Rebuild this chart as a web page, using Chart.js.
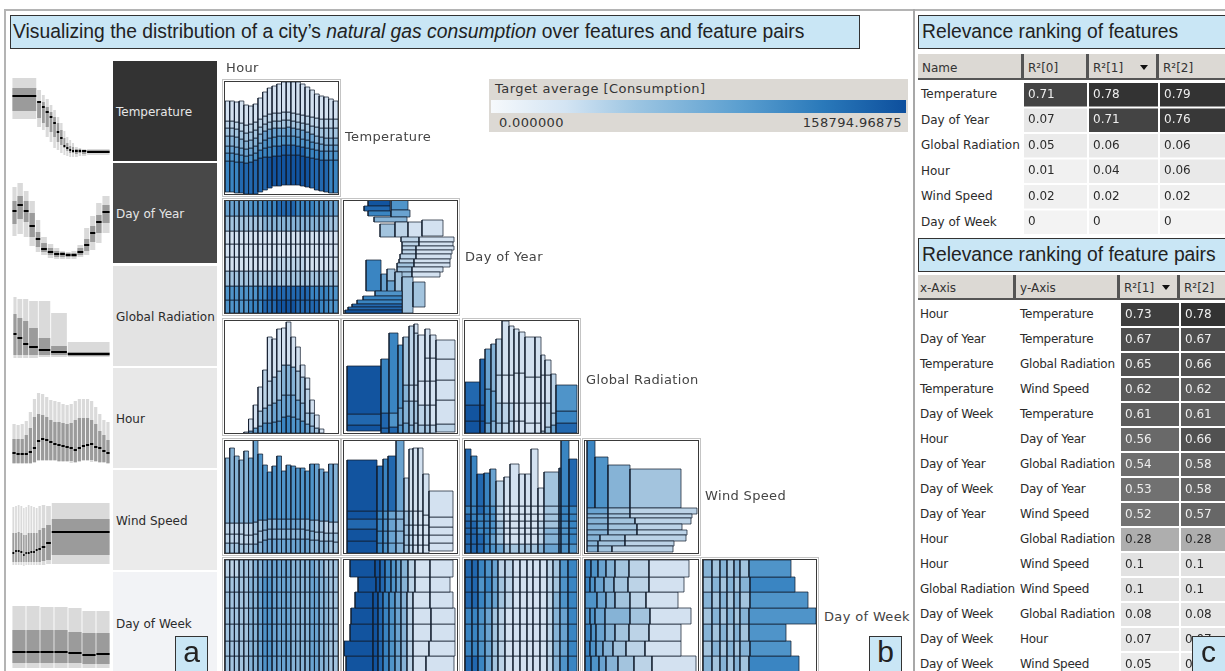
<!DOCTYPE html>
<html><head><meta charset="utf-8">
<script src="https://cdn.jsdelivr.net/npm/chart.js@4"></script>
<style>
html,body{margin:0;padding:0;background:#fff}
#page{position:relative;width:1225px;height:671px;overflow:hidden;background:#fff;font-family:"DejaVu Sans",sans-serif;font-size:12px;color:#2b2b2b}
#page canvas{position:absolute;display:block}
.abs{position:absolute;white-space:nowrap}
.box{position:absolute;box-sizing:border-box;background:#c9e6f5;border:1.5px solid #333;font-family:"Liberation Sans",Arial,sans-serif;color:#222;white-space:nowrap;z-index:5}
.hd{position:absolute;box-sizing:border-box;background:#dcd9d4;border-right:3px solid #555;border-bottom:2px solid #555;padding-left:4px;white-space:nowrap;color:#333}
.cell{position:absolute;box-sizing:border-box;padding-left:3px;white-space:nowrap}
.frame{position:absolute;box-sizing:border-box;border:1px solid #c4c4c4;pointer-events:none}
.inner{position:absolute;box-sizing:border-box;border:1px solid #3a3a3a;pointer-events:none;z-index:3}
.tri{position:absolute;width:0;height:0;border-left:4px solid transparent;border-right:4px solid transparent;border-top:5px solid #111}
.plab{color:#444;font-size:13px;letter-spacing:.35px}
.pt{letter-spacing:-.25px}
</style></head><body><div id="page"></div>
<script>
/* ---------- categories and labels ---------- */
const featureNames = ["Temperature","Day of Year","Global Radiation","Hour","Wind Speed","Day of Week"];
const axisNames = ["Temperature","Day of Year","Global Radiation","Wind Speed","Day of Week"];
const legendTitle = "Target average [Consumption]";
const legendMin = "0.000000";
const legendMax = "158794.96875";

/* ---------- relevance tables ---------- */
const rankNames = ["Temperature","Day of Year","Global Radiation","Hour","Wind Speed","Day of Week"];
const rankR0 = [0.71,0.07,0.05,0.01,0.02,0];
const rankR1 = [0.78,0.71,0.06,0.04,0.02,0];
const rankR2 = [0.79,0.76,0.06,0.06,0.02,0];
const pairX = ["Hour","Day of Year","Temperature","Temperature","Day of Week","Hour","Day of Year","Day of Week","Day of Year","Hour","Hour","Global Radiation","Day of Week","Day of Week","Day of Week"];
const pairY = ["Temperature","Temperature","Global Radiation","Wind Speed","Temperature","Day of Year","Global Radiation","Day of Year","Wind Speed","Global Radiation","Wind Speed","Wind Speed","Global Radiation","Hour","Wind Speed"];
const pairR1 = [0.73,0.67,0.65,0.62,0.61,0.56,0.54,0.53,0.52,0.28,0.1,0.1,0.08,0.07,0.05];
const pairR2 = [0.78,0.67,0.66,0.62,0.61,0.66,0.58,0.58,0.57,0.28,0.1,0.1,0.08,0.07,0.05];

/* ---------- single-feature distributions: bin edges, high, q3, median, q1, low ---------- */
const tempEdges=[0,24.7,29.5,33.2,37.2,40.8,44.3,47.7,51,53.8,56.8,59.6,62.5,66.2,69.6,74.7,98];
const tempHigh=[84,72,67,63,57,52,45,39,31,25,22,19,15,14,13,13];
const tempQ3=[74,61,60,55,50,45,39,32,24,19,16,15,13,13,12,12];
const tempMed=[66,60,55,50,45,39,30,24,16,14,12,11,11,11,11,10];
const tempQ1=[51,44,39,35,30,25,20,17,14,11,9,9,8,9,8,9];
const tempLow=[43,35,32,25,20,14,12,9,7,6,5,5,5,6,6,7];

const doyEdges=[0,5,11.3,17,23.3,28.7,35.3,41.7,47.7,53.3,59,65,71.7,77.7,83.7,90,98];
const doyHigh=[77,81,73,63,44,27,20,16,13,12,13,19,36,48,61,68];
const doyQ3=[63,68,63,51,32,21,16,13,12,11,11,16,25,38,49,59];
const doyMed=[53,59,53,38,25,15,12,10,10,9,9,12,19,31,42,52];
const doyQ1=[40,45,42,27,17,12,9,7,7,7,7,9,13,22,31,41];
const doyLow=[28,30,27,18,12,9,6,5,5,5,5,7,9,14,21,31];

const radEdges=[0,1,5,10.7,16.7,26.3,38.7,55.3,98];
const radHigh=[70,70,68,68,66,66,54,25];
const radQ3=[50,53,49,46,39,29,21,15];
const radMed=[30,33,29,23,20,17,15,13];
const radQ1=[12,12,12,12,12,12,12,11];
const radLow=[5,9,9,9,9,10,10,10];

const hourEdges=[0,1,2,3,4,5,6,7,8,9,10,11,12,13,14,15,16,17,18,19,20,21,22,23,24];
const hourHigh=[45,44,45,48,57,70,76,75,72,69,68,67,65,64,65,68,70,70,70,68,62,55,49,47];
const hourQ3=[30,30,30,34,41,52,55,54,52,49,47,47,46,45,46,49,51,51,51,49,45,38,34,29];
const hourMed=[16,15,15,15,17,21,28,30,29,27,25,24,23,22,21,19,21,23,24,25,22,21,18,16];
const hourQ1=[6,6,6,6,6,7,9,9,9,9,9,8,8,8,8,7,8,9,9,9,8,7,7,6];
const hourLow=[5,5,5,5,5,6,8,8,8,8,8,7,7,7,6,6,7,8,8,7,7,6,6,5];

const windEdges=[0,2.7,5.3,8,10.7,13,15.3,18,20.7,23.3,26,29.3,33.7,39.3,98];
const windHigh=[65,66,67,66,64,65,67,66,65,64,66,67,66,69];
const windQ3=[39,39,40,39,37,37,39,39,39,39,42,44,47,53];
const windMed=[19,21,21,20,17,19,19,20,20,22,23,25,29,40];
const windQ1=[10,10,10,10,10,10,10,10,10,10,10,11,12,17];
const windLow=[7,7,7,7,6,7,7,7,7,7,7,7,8,8];

const weekEdges=[0,1,2,3,4,5,6,7];
const weekHigh=[68,68,67,67,66,63,63];
const weekQ3=[44,44,44,44,42,41,41];
const weekMed=[22,22,22,22,21,19,20];
const weekQ1=[11,11,11,11,11,10,10];
const weekLow=[6,6,6,6,6,6,6];

/* ---------- pair mosaics: bin boundaries and a tone digit per cell (bottom to top) ---------- */
const hourTempLevels=[
[2,2,1,1,0,0,0,2,4,6,8,8,9,9,9,9,8,7,6,4,3,2,1,1],
[33,33,32,32,31,32,34,36,37,37,38,38,39,39,39,39,38,37,36,35,34,34,34,34],
[41,41,40,39,38,39,41,44,46,47,48,48,49,49,49,48,47,46,45,44,43,43,43,43],
[48,48,47,46,45,46,48,51,54,56,57,58,58,58,58,57,55,54,52,51,50,49,49,49],
[58,58,57,55,53,54,56,60,63,65,66,66,66,67,66,65,64,62,60,58,57,56,56,56],
[66,66,65,63,61,62,64,67,70,72,73,73,74,74,73,72,71,70,68,67,66,66,66,66],
[73,73,72,71,69,70,72,75,78,80,81,81,82,82,81,80,79,78,77,76,75,75,75,75],
[93,93,92,93,89,88,90,96,102,106,108,110,112,112,112,112,110,107,104,100,98,97,95,93]];
const hourTempTones=["7654321","7654321","7654321","8654321","8654321","8654321","8654321","8754321","8765321","9765321","9765321","9865321","9865321","9865321","9865321","9865321","9865321","9765321","8765321","8754321","8754321","8654321","7654321","7654321"];

const hourDoyLevels=[0,13,27,42,56,69,82,97,113];
const hourDoyTones=["66311135","66311135","66311135","66311135","66311135","76311136","76311136","77311136","87311147","88311147","88321147","98321148","98321148","98321148","98321148","88321147","88321147","88311147","87311147","87311146","77311146","77311146","66311135","66311135"];

const doyTempRects=[
[24,46,107,113,9],[47,64,103,113,6],[20,46,102,107,8],[24,47,97,102,7],[47,66,96,103,5],[30,63,91,96,4],[36,51,76,89,3],[51,64,76,91,2],[64,78,74,91,1],[78,99,77,93,1],
[57,75,71,76,2],[75,110,71,76,1],[58,75,67,71,2],[75,109,67,71,1],[58,72,63,67,2],[72,110,63,67,1],[58,72,59,63,2],[72,108,59,63,1],[56,72,54,59,2],[72,107,54,59,1],[55,70,50,54,2],[70,106,50,54,1],[53,70,46,50,3],[70,106,46,50,1],[53,68,41,46,3],[68,99,41,46,1],[51,68,36,41,3],[68,96,36,41,1],
[22,37,22,53,7],[37,43,21,39,5],[43,51,32,44,3],[43,51,21,32,5],[51,58,21,41,3],[58,69,0,36,3],[69,81,6,31,3],
[31,58,17,22,6],[19,58,13,17,7],[13,58,9,13,7],[8,58,6,9,8],[4,58,3,6,8],[1,58,0,3,9]];

const hourRadLevels=[null,null,null,null,[0,1],[0,2,14],[0,5,28],[0,7,22,46],[0,10,25,63],[0,10,28,52,96],[0,11,30,56,94],[0,12,33,62,104],[0,16,38,68,105],[0,17,38,68,111],[0,16,38,66,96],[0,14,33,62,86],[0,12,30,56,68],[0,9,20,44,55],[0,7,20,33],[0,5,18],[0,4],null,null,null];
const hourRadTones=["","","","","1","51","51","531","642","6421","6531","6531","7541","7541","6541","6531","6431","5321","431","31","1","","",""];

const doyRadEdges=[3,37,45,54,59,65,70,74,81,86,92,111];
const doyRadLevels=[[2,8,19,67],[0,5,20,74],[0,6,20,100],[0,8,25,88],[0,10,32,48,96],[0,8,32,48,107],[0,10,32,48,100,109],[0,8,28,52,98],[0,8,28,52,75,104],[0,8,28,52,75,98],[1,9,33,53,74,93]];
const doyRadTones=["989","887","867","656","5443","4322","33221","3211","32111","21111","21111"];

const radRadEdges=[0,15,20,26,31,37,44,49,54,60,70,76,80,86,91,112];
const radRadLevels=[[0,12,28,51],[0,12,28,74],[0,10,44,84],[0,12,42,89],[0,10,30,58,94],[0,10,30,58,112],[0,12,30,58,107],[0,12,30,60,104],[0,12,30,60,101],[0,10,30,56,96],[0,10,30,56,96],[0,2,30,58,78],[0,6,30,58,73],[0,8,20,59],[0,10,22,48]];
const radRadTones=["998","998","565","454","3322","2211","2211","1111","1111","1111","1111","2111","3211","532","876"];

const hourWindLevels=[
[0,0,0,0,0,0,0,0,0,0,0,0,0,0,0,0,0,0,0,0,0,0,0,0],
[10,10,10,9,9,9,9,11,13,14,14,14,14,14,14,14,14,14,13,13,12,12,12,11],
[19,19,19,19,18,18,19,22,23,24,24,24,24,24,24,24,24,23,22,21,21,20,20,20],
[30,30,30,30,30,30,31,33,33,34,34,34,34,34,34,34,34,34,33,33,32,32,31,31],
[95,105,97,93,102,95,113,99,88,81,87,97,82,88,87,85,85,82,89,89,84,81,89,89]];
const hourWindTones=["3224","3224","3224","3224","3224","3225","4335","4336","5446","5446","5446","5456","5456","5456","5456","5456","5446","5446","4446","4335","4335","4325","3325","3324"];

const doyWindEdges=[3,33,39,44,52,60,65,69,74,79,85,109];
const doyWindLevels=[[0,12,24,34,42,93],[0,10,22,34,42,87],[0,10,22,34,42,94],[0,10,22,34,42,97],[0,10,22,34,42,113],[0,8,18,28,42,75],[0,8,18,28,42,104],[0,8,18,28,42,105],[0,8,18,28,42,105],[0,8,18,28,38,79],[2,10,18,26,36,62]];
const doyWindTones=["99899","77778","66667","55558","44445","33332","22221","11111","11111","11111","11111"];

const radWindEdges=[0,6,12,19,25,31,39,45,54,60,66,73,79,94,96,104,112];
const radWindTops=[104,97,79,80,84,72,76,89,79,79,104,65,81,85,113,94];
const radWindLevels=[0,9,19,25,32,39,47];
const radWindTones=["8888878","8888777","8877788","7777777","6566665","5333222","3111111","3111111","3111111","3111111","3111111","4222111","5443333","6566666","6666777","6777778"];

const windWindRects=[
[2,10,45,113,7],[10,23,45,96,6],[23,45,45,88,4],[45,96,45,84,3],
[2,23,39,45,5],[23,45,39,45,3],[45,112,39,45,2],[2,23,35,39,4],[23,45,35,39,3],[45,107,35,39,2],
[2,23,29,35,4],[23,50,29,35,3],[50,106,29,35,2],[2,23,23,29,4],[23,52,23,29,3],[52,97,23,29,2],
[2,23,18,23,4],[23,52,18,23,3],[52,102,18,23,2],[2,15,12,18,4],[15,40,12,18,3],[40,101,12,18,2],
[2,13,7,12,4],[13,40,7,12,3],[40,89,7,12,2],[2,13,1,7,4],[13,27,1,7,3],[27,88,1,7,2]];

const weekLevels=[0,16,31,48,64,80,95,112];
const hourWeekTones=["3333332","3333332","3333332","3333333","3333333","4444443","4444444","5555554","6666665","6666665","5555555","5555555","5555555","5555555","4444444","4444444","4444444","4444444","5555555","5555554","4444444","4444443","3333333","3333333"];

const doyWeekEdges=[
[2,29,34,39,45,51,57,63,69,82,110],
[0,29,34,39,45,51,57,63,69,85,111],
[6,29,34,39,45,51,57,63,69,87,111],
[7,29,34,39,45,51,57,63,69,87,111],
[11,29,34,39,45,51,57,63,69,86,109],
[14,32,36,41,47,52,57,64,71,86,106],
[6,31,36,41,47,52,57,64,71,86,109]];
const doyWeekTones=["9987654211","9987654211","9987654211","9987654211","9987654211","9987654211","9987654211"];

const radWeekEdges=[0,7,13,20,27,33,40,48,55,62,68,75,82,88,95,103,112];
const radWeekTones=["8777888","8777888","7666767","5555676","3333555","2222332","1111222","1111111","1111111","1111111","1111111","1111111","2222222","4444433","6555666","7777777"];

const windWeekEdges=[
[0,6,14,21,33,49,67,111],
[0,5,11,18,28,41,60,96],
[0,6,11,20,30,44,64,96],
[0,5,10,20,45,65,106],
[0,12,21,30,45,61,93],
[0,5,10,19,29,43,64,99],
[0,6,13,21,30,44,64,104]];
const windWeekTones=["7654321","7654321","7654321","665431","654321","7654321","7654321"];

const weekWeekEdges=[
[0,9,17,24,31,37,46,96],
[0,9,17,24,31,37,47,88],
[0,9,17,24,31,37,46,83],
[0,9,17,24,31,37,46,113],
[0,9,17,24,31,37,47,105],
[0,9,17,24,31,37,47,92],
[0,9,17,24,31,37,46,88]];
const weekWeekTones=["4343437","3434346","4343436","3434346","4343436","3434347","4343436"];

/* ---------- styles and layout ---------- */
const RAMP=["#e6eef7","#d3e1f0","#bcd3e7","#a3c4de","#86b3d6","#6aa3d0","#4f94c9","#3a85c2","#2268af","#12549f"];
const page=document.getElementById("page");
function div(cls,left,top,w,h,html,css){
  const d=document.createElement("div");d.className=cls;
  if(left!=null)d.style.left=left+"px";d.style.top=top+"px";
  if(w!=null)d.style.width=w+"px"; if(h!=null)d.style.height=h+"px";
  if(html!=null)d.innerHTML=html; if(css)d.style.cssText+=css;
  page.appendChild(d);return d;
}
function newChart(left,top,w,h,xMax,yMax,datasets,extra,blur){
  const c=document.createElement("canvas");
  c.width=w;c.height=h;c.style.left=left+"px";c.style.top=top+"px";c.style.width=w+"px";c.style.height=h+"px";
  if(blur)c.style.filter="blur("+blur+"px)";
  page.appendChild(c);
  /* the library paints the first dataset last, so the list is reversed to keep painter's order */
  return new Chart(c,{type:"scatter",data:{datasets:datasets.slice().reverse()},plugins:extra||[],options:{
    responsive:false,animation:false,events:[],devicePixelRatio:1,
    layout:{padding:0},
    plugins:{legend:{display:false},tooltip:{enabled:false}},
    scales:{x:{type:"linear",display:false,min:0,max:xMax},y:{type:"linear",display:false,min:0,max:yMax}}
  }});
}
function rectSet(x0,x1,y0,y1,fill,stroke,bw){
  return {data:[{x:x0,y:y0},{x:x1,y:y0},{x:x1,y:y1},{x:x0,y:y1},{x:x0,y:y0}],showLine:true,fill:"shape",
    backgroundColor:fill,borderColor:stroke||fill,borderWidth:bw||0,pointRadius:0,tension:0,borderJoinStyle:"miter"};
}
/* mosaic builders */
function fromColumns(edges,levels,tones){
  const out=[];
  levels.forEach((lv,i)=>{ if(!lv)return;
    for(let k=0;k<lv.length-1;k++){ if(lv[k+1]>lv[k]) out.push([edges[i],edges[i+1],lv[k],lv[k+1],+tones[i][k]]); }
  });
  return out;
}
function transpose(rows){return rows[0].map((_,i)=>rows.map(r=>r[i]));}
function fromBands(levels,edgesPerRow,tonesPerRow){
  const out=[];
  edgesPerRow.forEach((e,r)=>{ for(let k=0;k<e.length-1;k++) out.push([e[k],e[k+1],levels[r],levels[r+1],+tonesPerRow[r][k]]); });
  return out;
}
const STROKE="rgba(18,28,44,.72)";
function mosaic(col,row,xMax,rects){
  const colX=[225,344,465,585,703], rowY=[82,201,321,441,560];
  const l=colX[col], t=rowY[row], w=113, h=112;
  newChart(l,t,w,h,xMax,112,rects.map(r=>rectSet(r[0],r[1],r[2],r[3],RAMP[r[4]],STROKE,1)),null,0.45);
  div("inner",l-1,t-1,w+2,h+2);
  div("frame",l-3,t-3,w+6,h+6);
}
function distribution(top,xMax,edges,high,q3,med,q1,low){
  const g=xMax/98*0.45, sets=[];
  high.forEach((v,i)=>sets.push(rectSet(edges[i]+g,edges[i+1]-g,low[i],v,"#dadada")));
  q3.forEach((v,i)=>sets.push(rectSet(edges[i]+g,edges[i+1]-g,q1[i],v,"#9b9b9b")));
  med.forEach((v,i)=>sets.push({data:[{x:edges[i]+g,y:v},{x:edges[i+1]-g,y:v}],showLine:true,fill:false,borderColor:"#000",borderWidth:2,pointRadius:0}));
  newChart(12,top,98,102,xMax,102,sets);
}
function grayFor(v){const g=v<=0.1?Math.round(243-170*v):Math.max(51,Math.round(243-246*v));return "rgb("+g+","+g+","+g+")";}
function heatColumn(left,top,w,rowH,values){
  const n=values.length;
  const sets=values.map((v,i)=>rectSet(0,1,n-i-1+0.04,n-i-0.04,grayFor(v)));
  const labels={id:"cellText",afterDatasetsDraw(ch){
    const ctx=ch.ctx,sx=ch.scales.x,sy=ch.scales.y;
    ctx.save();ctx.font='12px "DejaVu Sans"';ctx.textBaseline="middle";ctx.textAlign="left";
    values.forEach((v,i)=>{ctx.fillStyle=v>=0.5?"#eeeeee":"#2b2b2b";ctx.fillText(String(v),sx.getPixelForValue(0)+4,sy.getPixelForValue(n-i-0.5));});
    ctx.restore();
  }};
  newChart(left,top,w,Math.round(rowH*n),1,n,sets,[labels]);
}

/* ---------- frame ---------- */
div("abs",4,9,1221,2,null,"background:#b4b4b4");
div("abs",4,9,2,662,null,"background:#b4b4b4");
div("abs",913,9,2,662,null,"background:#a8a8a8");
div("box",10,15,850,34,'Visualizing the distribution of a city’s <i>natural gas consumption</i> over features and feature pairs',"font-size:19.3px;line-height:31px;padding-left:2px");
div("box",918,15,312,34,"Relevance ranking of features","font-size:19.3px;line-height:31px;padding-left:3px");
div("box",918,238,312,34,"Relevance ranking of feature pairs","font-size:19.3px;line-height:31px;padding-left:3px");

/* ---------- panel a ---------- */
const cellTops=[61,163,266,368,470,572], cellFill=["#333333","#484848","#e3e3e3","#e8e8e8","#ebebeb","#f2f3f6"];
featureNames.forEach((n,i)=>{
  div("cell",113,cellTops[i],104,i==5?99:100,n,"line-height:"+(i==5?104:102)+"px;background:"+cellFill[i]+";color:"+(i<2?"#e6e6e6":"#2b2b2b"));
});
distribution(60,98,tempEdges,tempHigh,tempQ3,tempMed,tempQ1,tempLow);
distribution(162,98,doyEdges,doyHigh,doyQ3,doyMed,doyQ1,doyLow);
distribution(265,98,radEdges,radHigh,radQ3,radMed,radQ1,radLow);
distribution(367,24,hourEdges,hourHigh,hourQ3,hourMed,hourQ1,hourLow);
distribution(470,98,windEdges,windHigh,windQ3,windMed,windQ1,windLow);
distribution(572,7,weekEdges,weekHigh,weekQ3,weekMed,weekQ1,weekLow);

/* ---------- panel b ---------- */
mosaic(0,0,24,fromColumns(hourEdges,transpose(hourTempLevels),hourTempTones));
mosaic(0,1,24,fromColumns(hourEdges,hourDoyTones.map(()=>hourDoyLevels),hourDoyTones));
mosaic(1,1,113,doyTempRects);
mosaic(0,2,24,fromColumns(hourEdges,hourRadLevels,hourRadTones));
mosaic(1,2,113,fromColumns(doyRadEdges,doyRadLevels,doyRadTones));
mosaic(2,2,113,fromColumns(radRadEdges,radRadLevels,radRadTones));
mosaic(0,3,24,fromColumns(hourEdges,transpose(hourWindLevels),hourWindTones));
mosaic(1,3,113,fromColumns(doyWindEdges,doyWindLevels,doyWindTones));
mosaic(2,3,113,fromColumns(radWindEdges,radWindTops.map(t=>radWindLevels.concat([t])),radWindTones));
mosaic(3,3,113,windWindRects);
mosaic(0,4,24,fromColumns(hourEdges,hourWeekTones.map(()=>weekLevels),hourWeekTones));
mosaic(1,4,113,fromBands(weekLevels,doyWeekEdges,doyWeekTones));
mosaic(2,4,113,fromColumns(radWeekEdges,radWeekTones.map(()=>weekLevels),radWeekTones));
mosaic(3,4,113,fromBands(weekLevels,windWeekEdges,windWeekTones));
mosaic(4,4,113,fromBands(weekLevels,weekWeekEdges,weekWeekTones));

div("abs plab",226,60,null,null,"Hour");
const labelX=[345,465,586,705,824], labelY=[129,249,372,488,609];
axisNames.forEach((n,i)=>div("abs plab",labelX[i],labelY[i],null,null,n));

/* legend */
div("abs",489,79,419,53,null,"background:#dcd9d4");
div("abs plab",495,81,null,null,legendTitle,"letter-spacing:.45px;color:#333");
div("abs",491,100,415,13,null,"background:linear-gradient(90deg,#f6f9fc 0%,#d3e4f3 18%,#9cc5e2 35%,#5b9fd0 60%,#2a79ba 80%,#0d4f9d 100%)");
div("abs plab",499,115,null,null,legendMin,"color:#333");
div("abs plab",null,115,null,null,legendMax,"color:#333;right:323px");

/* ---------- panel c ---------- */
div("hd",918,54,106,26,"Name","line-height:28px");
div("hd",1024,54,65,26,"R²[0]","line-height:28px");
div("hd",1089,54,70,26,"R²[1]","line-height:28px");
div("hd",1159,54,70,26,"R²[2]","line-height:28px");
div("tri",1140,65);
rankNames.forEach((n,i)=>div("abs",921,82+25.5*i,null,null,n,"line-height:25px"));
heatColumn(1024,82,63,25.5,rankR0);
heatColumn(1089,82,69,25.5,rankR1);
heatColumn(1160,82,70,25.5,rankR2);

div("hd",918,275,98,25,"x-Axis","line-height:27px;padding-left:2px");
div("hd",1016,275,104,25,"y-Axis","line-height:27px");
div("hd",1120,275,60,25,"R²[1]","line-height:27px");
div("hd",1180,275,50,25,"R²[2]","line-height:27px");
div("tri",1162,285);
pairX.forEach((n,i)=>{
  div("abs pt",920,302+25*i,null,null,n,"line-height:25px");
  div("abs pt",1020,302+25*i,null,null,pairY[i],"line-height:25px");
});
heatColumn(1121,302,58,25,pairR1);
heatColumn(1181,302,48,25,pairR2);

/* corner tags */
const tags=[["a",175],["b",869],["c",1192]];
tags.forEach(t=>div("box",t[1],636,t[1]==1192?36:33,36,t[0],"font-size:30px;line-height:30px;text-align:center"+(t[1]==1192?";padding-right:3px":"")));
</script></body></html>
